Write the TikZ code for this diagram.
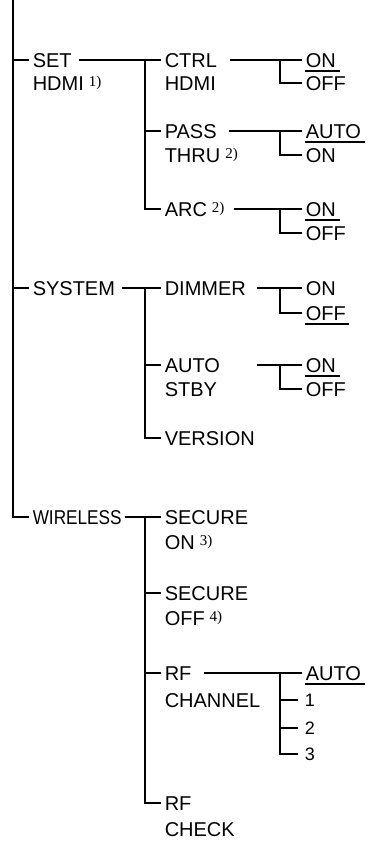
\documentclass[tikz,border=0pt]{standalone}
\usepackage{fontspec}
\usepackage{graphicx}
\setmainfont{Liberation Sans}
\newfontfamily\supfont{Liberation Serif}
\usetikzlibrary{calc}
\newcommand\fnote[1]{\hspace{5pt}{\supfont\fontsize{15}{15}\selectfont\raisebox{4pt}{#1}}}
\begin{document}
\begin{tikzpicture}[x=1pt,y=-1pt,line width=1.5pt,
  lab/.style={anchor=west,inner xsep=3pt,inner ysep=0pt,text height=14.3pt,text depth=0pt,font=\fontsize{20}{24}\selectfont},
  num/.style={lab,inner xsep=6pt,font=\fontsize{18}{20}\selectfont,text height=12.9pt},
  ul/.style={line width=1.4pt},
  mainline/.style={line width=1.8pt}]
\useasboundingbox (0,0) rectangle (368,842);
\coordinate (top) at (13,0);
\coordinate (xa) at (145,0);
\coordinate (xb) at (280,0);
% level 1
\node[lab] (set) at (29,60) {SET};
\node[lab] (set2) at (29,83) {HDMI\fnote{1)}};
\node[lab] (system) at (29,288) {SYSTEM};
\node[lab] (wireless) at (29,517) {\scalebox{0.86}[1]{WIRELESS}};
% level 2
\node[lab] (ctrl) at (161,60) {CTRL};
\node[lab] (ctrl2) at (161,83) {HDMI};
\node[lab] (pass) at (161,131) {PASS};
\node[lab] (pass2) at (161,155) {THRU\fnote{2)}};
\node[lab] (arc) at (161,209) {ARC\fnote{2)}};
\node[lab] (dimmer) at (161,288) {DIMMER};
\node[lab] (auto) at (161,365) {AUTO};
\node[lab] (auto2) at (161,389) {STBY};
\node[lab] (version) at (161,438) {VERSION};
\node[lab] (secon) at (161,517) {SECURE};
\node[lab] (secon2) at (161,542) {ON\fnote{3)}};
\node[lab] (secoff) at (161,593) {SECURE};
\node[lab] (secoff2) at (161,618) {OFF\fnote{4)}};
\node[lab] (rf) at (161,673) {RF};
\node[lab] (rf2) at (161,700) {CHANNEL};
\node[lab] (rfcheck) at (161,803) {RF};
\node[lab] (rfcheck2) at (161,829) {CHECK};
% level 3
\node[lab] (ctrlon) at (302,60) {ON};
\node[lab] (ctrloff) at (302,83) {OFF};
\node[lab] (passauto) at (302,131) {AUTO};
\node[lab] (passon) at (302,155) {ON};
\node[lab] (arcon) at (302,209) {ON};
\node[lab] (arcoff) at (302,233) {OFF};
\node[lab] (dimon) at (302,288) {ON};
\node[lab] (dimoff) at (302,313) {OFF};
\node[lab] (stbyon) at (302,365) {ON};
\node[lab] (stbyoff) at (302,389) {OFF};
\node[lab] (rfauto) at (302,673) {AUTO};
\node[num] (ch1) at (298,700) {1};
\node[num] (ch2) at (298,728) {2};
\node[num] (ch3) at (298,754) {3};
% main trunk
\draw[mainline] (top) |- (wireless.west);
\draw[mainline] (top |- set.west) -- (set.west);
\draw[mainline] (top |- system.west) -- (system.west);
% level 2 connectors
\draw ([xshift=4pt]set.east) -- (ctrl.west);
\draw (xa |- ctrl.west) |- (arc.west);
\draw (xa |- pass.west) -- (pass.west);
\draw ([xshift=3pt]system.east) -- (dimmer.west);
\draw (xa |- dimmer.west) |- (version.west);
\draw (xa |- auto.west) -- (auto.west);
\draw (wireless.east) -- (secon.west);
\draw (xa |- secon.west) |- (rfcheck.west);
\draw (xa |- secoff.west) -- (secoff.west);
\draw (xa |- rf.west) -- (rf.west);
% level 3 connectors
\draw ([xshift=9pt]ctrl.east) -- (ctrlon.west);
\draw (xb |- ctrlon.west) |- (ctrloff.west);
\draw ([xshift=9pt]pass.east) -- (passauto.west);
\draw (xb |- passauto.west) |- (passon.west);
\draw ([xshift=6pt]arc.east) -- (arcon.west);
\draw (xb |- arcon.west) |- (arcoff.west);
\draw ([xshift=7pt]dimmer.east) -- (dimon.west);
\draw (xb |- dimon.west) |- (dimoff.west);
\coordinate (dl) at ([xshift=7pt]dimmer.east);
\draw (dl |- stbyon.west) -- (stbyon.west);
\draw (xb |- stbyon.west) |- (stbyoff.west);
\draw ([xshift=9pt]rf.east) -- (rfauto.west);
\draw (xb |- rfauto.west) |- (ch3.west);
\draw (xb |- ch1.west) -- (ch1.west);
\draw (xb |- ch2.west) -- (ch2.west);
% underlines of default settings
\draw[ul] ([xshift=3pt,yshift=-4pt]ctrlon.base west) -- ([yshift=-4pt]ctrlon.base east);
\draw[ul] ([xshift=3pt,yshift=-4pt]passauto.base west) -- ([yshift=-4pt]passauto.base east);
\draw[ul] ([xshift=3pt,yshift=-4pt]arcon.base west) -- ([yshift=-4pt]arcon.base east);
\draw[ul] ([xshift=3pt,yshift=-4pt]dimoff.base west) -- ([yshift=-4pt]dimoff.base east);
\draw[ul] ([xshift=3pt,yshift=-4pt]stbyon.base west) -- ([yshift=-4pt]stbyon.base east);
\draw[ul] ([xshift=3pt,yshift=-4pt]rfauto.base west) -- ([yshift=-4pt]rfauto.base east);
\end{tikzpicture}
\end{document}
